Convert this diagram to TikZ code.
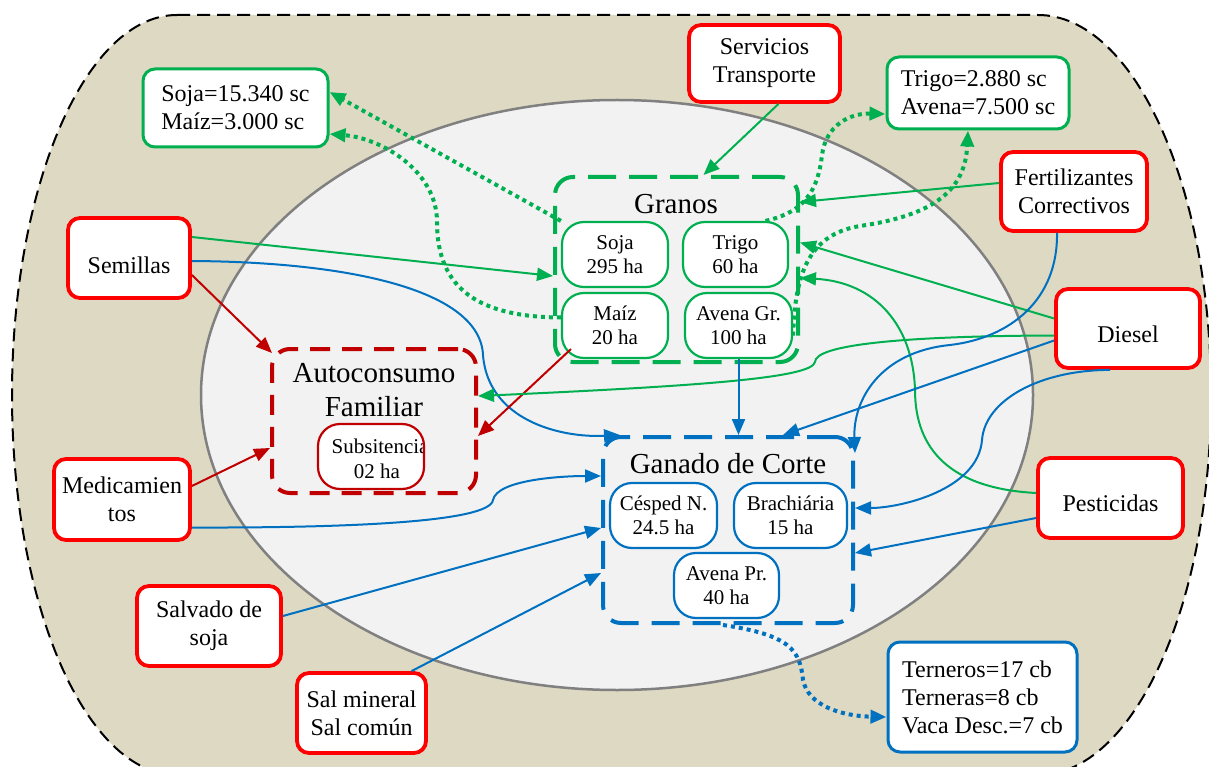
\documentclass[tikz,border=0pt]{standalone}
\usepackage{fontspec}
\setmainfont{Liberation Serif}
\usetikzlibrary{arrows.meta,calc}

\definecolor{gr}{HTML}{00B050}
\definecolor{rd}{HTML}{FF0000}
\definecolor{drd}{HTML}{C00000}
\definecolor{bl}{HTML}{0070C0}
\definecolor{beige}{HTML}{DDD9C3}
\definecolor{farm}{HTML}{F2F2F2}
\definecolor{rim}{HTML}{808080}

\begin{document}
\begin{tikzpicture}[x=1pt,y=-1pt,
  box/.style={draw, fill=white, rounded corners=12pt, inner sep=0pt, align=center,
    font=\fontsize{24}{28}\selectfont},
  inbox/.style={box, draw=rd, line width=3.8pt},
  outbox/.style={box, line width=3pt},
  crop/.style={draw, fill=white, rounded corners=22pt, inner sep=0pt, line width=2.2pt,
    align=center, font=\fontsize{21}{24}\selectfont, minimum height=65pt},
  group/.style={rounded corners=18pt, line width=4pt, dash pattern=on 28pt off 13pt, inner sep=0pt},
  title/.style={inner sep=0pt, align=center, font=\fontsize{29}{34}\selectfont},
  tip/.style={-{Triangle[length=16pt,width=13pt]}},
  link/.style={line width=2pt, tip},
  dots/.style={line width=4pt, dash pattern=on 4pt off 4pt, tip},
]
\useasboundingbox (0,0) rectangle (1209,767);
\fill[white] (0,0) rectangle (1209,767);

% surroundings of the farm
\draw[fill=beige, line width=2pt, dash pattern=on 13pt off 7pt]
  (177,15) -- (1038,15) arc[start angle=-90, end angle=90, x radius=173, y radius=380]
  -- (177,775) arc[start angle=90, end angle=270, x radius=165, y radius=380] -- cycle;

% the farm itself
\draw[fill=farm, draw=rim, line width=2.5pt] (617,395) ellipse [x radius=416, y radius=295];

% production subsystems
\node[group, draw=gr, minimum width=243pt, minimum height=185pt] (granos) at (676.5,269.5) {};
\node[title, anchor=base] (granosT) at (676,214) {Granos};
\node[crop, draw=gr, minimum width=106pt] (sojaN) at (615,254.5) {Soja\\295 ha};
\node[crop, draw=gr, minimum width=105pt] (trigoN) at (735.5,254.5) {Trigo\\60 ha};
\node[crop, draw=gr, minimum width=106pt] (maizN) at (615,325.5) {Maíz\\20 ha};
\node[crop, draw=gr, minimum width=107pt] (avenaG) at (738.5,325.5) {Avena Gr.\\100 ha};

\node[group, draw=drd, dash pattern=on 20pt off 12pt, minimum width=204pt, minimum height=144pt] (auto) at (374,421) {};
\node[title] (autoT) at (374,390) {Autoconsumo\\Familiar};
\node[crop, draw=drd, minimum width=106pt, path picture={
    \node[anchor=base west, inner sep=0pt, font=\fontsize{21}{24}\selectfont] (subsA)
      at ([xshift=8pt,yshift=3.5pt]path picture bounding box.west) {Subsitencia};
    \node[anchor=base, inner sep=0pt, font=\fontsize{21}{24}\selectfont] (subsB)
      at ([xshift=6pt,yshift=-21.5pt]path picture bounding box.center) {02 ha};
  }] (subs) at (371,456.5) {};

\node[group, draw=bl, minimum width=250pt, minimum height=186pt] (ganado) at (728,530) {};
\node[title, anchor=base] (ganadoT) at (728,473) {Ganado de Corte};
\node[crop, draw=bl, minimum width=107pt] (cesped) at (663.5,515.5) {Césped N.\\24.5 ha};
\node[crop, draw=bl, minimum width=113pt] (brach) at (790.5,515.5) {Brachiária\\15 ha};
\node[crop, draw=bl, minimum width=105pt] (avenaP) at (726.5,585.5) {Avena Pr.\\40 ha};

% inputs
\node[inbox, minimum width=151pt, minimum height=77pt] (serv) at (764.5,63.5) {Servicios\\Transporte};
\node[inbox, minimum width=146pt, minimum height=79pt] (fert) at (1074,191.5) {Fertilizantes\\Correctivos};
\node[inbox, minimum width=122pt, minimum height=80pt, text height=30pt, text depth=0pt] (sem) at (129,258) {Semillas};
\node[inbox, minimum width=144pt, minimum height=79pt, text height=27pt, text depth=0pt] (diesel) at (1128,328.5) {Diesel};
\node[inbox, minimum width=136pt, minimum height=81pt] (med) at (122,499.5) {Medicamien\\tos};
\node[inbox, minimum width=145pt, minimum height=80pt, text height=26pt, text depth=0pt] (pest) at (1110.5,498) {Pesticidas};
\node[inbox, minimum width=144pt, minimum height=80pt] (salv) at (209,626) {Salvado de\\soja};
\node[inbox, minimum width=129pt, minimum height=80pt] (sal) at (361.5,713) {Sal mineral\\Sal común};

% outputs
\node[outbox, draw=gr, align=left, minimum width=185pt, minimum height=78pt] (sojaOut) at (235.5,108) {Soja=15.340 sc\\Maíz=3.000 sc};
\node[outbox, draw=gr, align=left, minimum width=182pt, minimum height=72pt] (trigoOut) at (978,93) {Trigo=2.880 sc\\Avena=7.500 sc};
\node[outbox, draw=bl, align=left, minimum width=189pt, minimum height=110pt] (terneros) at (982.5,697) {Terneros=17 cb\\Terneras=8 cb\\Vaca Desc.=7 cb};

% flows of inputs
\draw[link, gr] ([xshift=14pt]serv.south) -- ([xshift=27pt]granos.north);
\draw[link, gr] ([yshift=8.5pt]fert.west) -- ([yshift=67.5pt]granos.east);
\draw[link, gr] ([yshift=21pt]sem.east) -- ([yshift=-6.5pt]granos.west);
\draw[link, bl] ([yshift=-3pt]sem.east) .. controls (350,262) and (480,290) .. (483,355)
  .. controls (488,420) and (560,438) .. ([xshift=19pt]ganado.north west);
\draw[link, drd] ([yshift=-17pt]sem.east) -- ([xshift=2pt,yshift=-6pt]auto.north west);
\draw[link, drd] ([yshift=13.5pt]med.east) -- ([yshift=-27pt]auto.west);
\draw[link, bl] ([yshift=-28pt]med.east) .. controls (350,528) and (490,522) .. (493,500)
  .. controls (497,480) and (560,476) .. ([yshift=54pt]ganado.west);
\draw[link, drd] ([xshift=10pt,yshift=10pt]maizN.south west) -- ([yshift=-15pt]auto.east);
\draw[link, gr] ([yshift=-7pt]diesel.west) .. controls (900,336) and (815,345) .. (815,362)
  .. controls (812,378) and (700,386) .. ([yshift=25pt]auto.east);
\draw[link, gr] ([yshift=10pt]diesel.west) -- ([yshift=27pt]granos.east);
\draw[link, gr] ([yshift=5pt]pest.west) .. controls (940,488) and (915,440) .. (915,390)
  .. controls (913,325) and (875,282) .. ([yshift=-8.5pt]granos.east);
\draw[link, bl] ([xshift=-17pt]fert.south) .. controls (1058,300) and (1010,338) .. (950,345)
  .. controls (880,352) and (853,400) .. ([yshift=-18pt]ganado.north east);
\draw[link, bl] ([yshift=-12pt]diesel.west) -- ([xshift=55pt]ganado.north);
\draw[link, bl] ([xshift=-18pt]diesel.south) .. controls (1040,370) and (985,400) .. (982,440)
  .. controls (978,490) and (900,508) .. ([yshift=22pt]ganado.east);
\draw[link, bl] ([yshift=-20pt]pest.west) -- ([yshift=-23pt]ganado.east);
\draw[link, bl] (avenaG.south) -- (avenaG.south |- ganado.north);
\draw[link, bl] ([yshift=10pt]salv.east) -- ([yshift=2pt]ganado.west);
\draw[link, bl] ([xshift=50pt]sal.north) -- ([yshift=-43pt]ganado.west);

% flows of products
\draw[dots, gr] (sojaN.north west) -- ([yshift=16pt]sojaOut.east);
\draw[dots, gr] ([yshift=8pt]maizN.west) .. controls (480,317) and (437,290) .. (437,222)
  .. controls (437,170) and (380,138) .. ([yshift=-26pt]sojaOut.east);
\draw[dots, gr] ([xshift=30pt]trigoN.north) .. controls (805,212) and (818,190) .. (822,155)
  .. controls (826,125) and (850,113) .. ([yshift=-21pt]trigoOut.west);
\draw[dots, gr] ([yshift=-10pt]avenaG.east) .. controls (795,280) and (805,235) .. (860,226)
  .. controls (935,215) and (965,190) .. ([xshift=-10pt]trigoOut.south);
\draw[dots, bl] ([xshift=-5pt]ganado.south) .. controls (790,635) and (800,650) .. (803,680)
  .. controls (808,705) and (840,716) .. ([yshift=-20pt]terneros.west);
\end{tikzpicture}
\end{document}
